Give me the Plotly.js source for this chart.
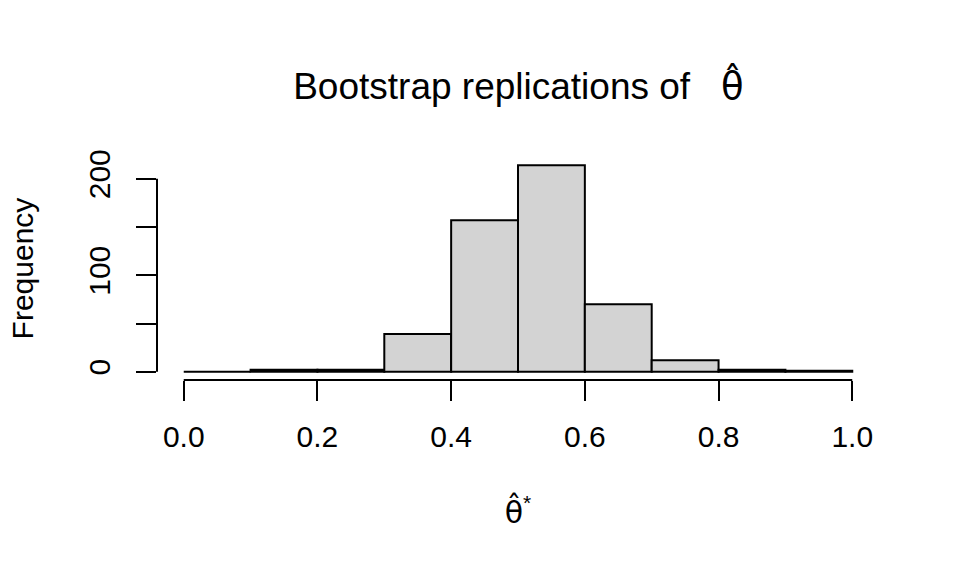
<!DOCTYPE html>
<html>
<head>
<meta charset="utf-8">
<script src="https://cdn.plot.ly/plotly-3.0.1.min.js"></script>
<style>
  html, body { margin: 0; padding: 0; background: #fff; }
  #myDiv { width: 960px; height: 576px; }
</style>
</head>
<body>
<div id="myDiv"></div>
<script>
// histogram of bootstrap replications, bins of width 0.1
var binStarts = [0.0, 0.1, 0.2, 0.3, 0.4, 0.5, 0.6, 0.7, 0.8, 0.9];
var counts = [0, 2, 2, 39, 157, 214, 70, 12, 2, 1];
var binWidth = 0.1;

var xTicks = [0, 0.2, 0.4, 0.6, 0.8, 1.0];
var xTickText = ["0.0", "0.2", "0.4", "0.6", "0.8", "1.0"];
var yTicks = [0, 50, 100, 150, 200];
var yTickText = ["0", "", "100", "", "200"];

var font = "Liberation Sans, Arial, Helvetica, sans-serif";
var thetaHat = '<span style="font-family:DejaVu Sans">θ̂</span>';

var bars = {
    x: binStarts,
    y: counts,
    width: binStarts.map(function () { return binWidth; }),
    offset: 0,
    type: "bar",
    marker: {
        color: "#d3d3d3",
        line: { color: "#000", width: 2 }
    },
    hoverinfo: "skip"
};

Plotly.newPlot('myDiv', [bars], {
    width: 960,
    height: 576,
    showlegend: false,
    paper_bgcolor: "#fff",
    plot_bgcolor: "#fff",
    font: { family: font, size: 30, color: "#000" },
    margin: { l: 157, r: 81, t: 157, b: 196 },
    bargap: 0,
    title: {
        text: "Bootstrap replications of \u00a0 " + thetaHat,
        font: { family: font, size: 37, color: "#000" },
        x: 0.54,
        xref: "container",
        y: 0.85,
        yref: "container",
        yanchor: "middle"
    },
    xaxis: {
        range: [-0.04, 1.04],
        tickvals: xTicks,
        ticktext: xTickText,
        ticks: "outside",
        ticklen: 20,
        tickwidth: 2,
        tickcolor: "#000",
        ticklabelstandoff: 10,
        showgrid: false,
        zeroline: false,
        showline: false,
        title: { text: thetaHat + "<sup>*</sup>", standoff: 49, font: { family: font, size: 30 } }
    },
    yaxis: {
        range: [-8.56, 222.56],
        tickvals: yTicks,
        ticktext: yTickText,
        tickangle: -90,
        ticks: "outside",
        ticklen: 20,
        tickwidth: 2,
        tickcolor: "#000",
        ticklabelstandoff: 14,
        showgrid: false,
        zeroline: false,
        showline: false,
        title: { text: "Frequency", standoff: 40, font: { family: font, size: 30 } }
    },
    shapes: [
        // R-style axis lines that only span the tick range
        { type: "line", xref: "x", yref: "paper", x0: xTicks[0], x1: xTicks[xTicks.length - 1], y0: 0, y1: 0,
          line: { color: "#000", width: 2 } },
        { type: "line", xref: "paper", yref: "y", x0: 0, x1: 0, y0: yTicks[0], y1: yTicks[yTicks.length - 1],
          line: { color: "#000", width: 2 } }
    ],
    hovermode: false
}, {
    displayModeBar: false,
    staticPlot: true
});
</script>
</body>
</html>
